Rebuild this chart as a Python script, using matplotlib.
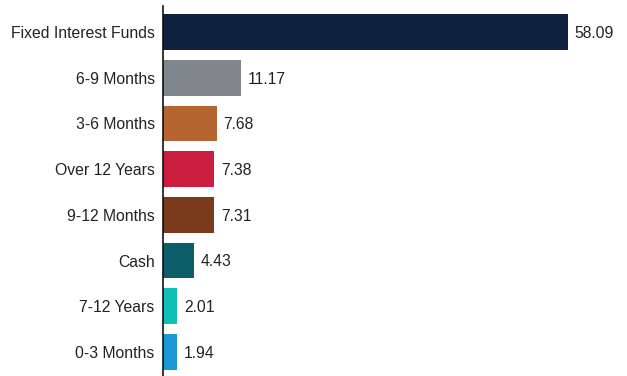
import matplotlib
matplotlib.use("Agg")
import matplotlib.pyplot as plt

categories = ["Fixed Interest Funds", "6-9 Months", "3-6 Months", "Over 12 Years",
              "9-12 Months", "Cash", "7-12 Years", "0-3 Months"]
values = [58.09, 11.17, 7.68, 7.38, 7.31, 4.43, 2.01, 1.94]
colors = ["#0E2240", "#7F868C", "#B5652F", "#CC1F3F",
          "#7A3A1C", "#0C5F6A", "#10BFB5", "#1C97D6"]

plt.rcParams["font.family"] = ["Liberation Sans", "DejaVu Sans"]

fig = plt.figure(figsize=(6.27, 3.76), dpi=100)
ax = fig.add_axes([163 / 627, 0, 1 - 163 / 627, 370 / 376])

y = list(range(len(categories)))
ax.barh(y, values, height=0.78, color=colors)
for yi, v in zip(y, values):
    ax.text(v + 1.0, yi + 0.03, f"{v:.2f}", va="center", ha="left", fontsize=11.3, color="#222222")

ax.set_yticks(y)
ax.set_yticklabels(categories, fontsize=11.3, color="#222222")
ax.tick_params(axis="y", length=0, pad=6)
ax.set_xticks([])
ax.set_xlim(0, 66.6)
ax.set_ylim(7.525, -0.569)
for s in ["top", "right", "bottom"]:
    ax.spines[s].set_visible(False)
ax.spines["left"].set_color("#111111")
ax.spines["left"].set_linewidth(1.2)

fig.savefig("out.png", dpi=100)
